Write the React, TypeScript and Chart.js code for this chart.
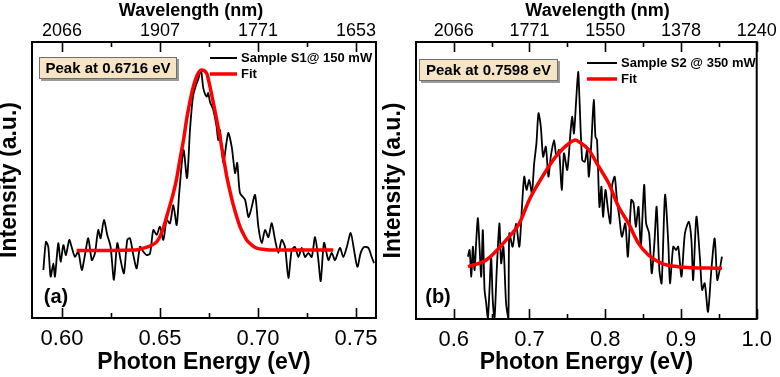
import React, { useEffect, useRef } from 'react';
import { Chart, registerables } from 'chart.js';

Chart.register(...registerables);

const FONT = "'Liberation Sans', Arial, Helvetica, sans-serif";

// ---------- Panel (a) data ----------
const energyA = [
  0.5905, 0.5918, 0.5930, 0.5942, 0.5956, 0.5964, 0.5981, 0.5993, 0.6007, 0.6020,
  0.6037, 0.6049, 0.6066, 0.6083, 0.6101, 0.6117, 0.6134, 0.6152, 0.6168, 0.6185,
  0.6197, 0.6214, 0.6231, 0.6248, 0.6265, 0.6282, 0.6299, 0.6316, 0.6333, 0.6347,
  0.6364, 0.6381, 0.6398, 0.6415, 0.6432, 0.6449, 0.6466, 0.6483, 0.6500, 0.6517,
  0.6534, 0.6551, 0.6568, 0.6585, 0.6598, 0.6620, 0.6638, 0.6653, 0.6668, 0.6684,
  0.6694, 0.6709, 0.6721, 0.6738, 0.6746, 0.6755, 0.6772, 0.6789, 0.6797, 0.6806,
  0.6823, 0.6848, 0.6866, 0.6883, 0.6894, 0.6908, 0.6934, 0.6951, 0.6964, 0.6985,
  0.7002, 0.7019, 0.7036, 0.7053, 0.7070, 0.7087, 0.7104, 0.7121, 0.7138, 0.7155,
  0.7172, 0.7189, 0.7206, 0.7223, 0.7240, 0.7257, 0.7274, 0.7291, 0.7308, 0.7320,
  0.7337, 0.7359, 0.7376, 0.7393, 0.7418, 0.7435, 0.7453, 0.7473, 0.7490, 0.7507,
  0.7524, 0.7541, 0.7563, 0.7580, 0.7592,
];
const intensityA = [
  17.4, 27.6, 25.8, 15.0, 19.8, 15.0, 27.1, 20.4, 26.4, 22.8,
  28.3, 25.8, 22.2, 24.0, 17.4, 22.8, 28.9, 21.0, 23.4, 31.9,
  28.9, 35.5, 30.1, 25.8, 13.8, 27.1, 21.0, 16.2, 28.3, 28.9,
  22.8, 18.0, 25.8, 24.0, 22.8, 23.4, 31.9, 30.1, 33.1, 28.3,
  35.5, 34.3, 40.9, 33.7, 45.2, 60.9, 50.7, 68.1, 80.1, 84.4,
  86.2, 89.9, 83.3, 80.2, 81.5, 78.3, 75.4, 69.2, 64.5, 68.1,
  56.2, 67.0, 62.0, 52.5, 56.2, 45.3, 42.8, 36.6, 39.1, 44.6,
  33.0, 27.2, 31.9, 29.3, 34.4, 28.3, 23.6, 28.3, 25.7, 14.5,
  24.6, 25.7, 22.1, 25.4, 22.1, 23.6, 22.1, 29.3, 21.0, 13.4,
  27.2, 21.0, 23.6, 21.0, 25.4, 22.1, 25.7, 30.8, 24.6, 18.5,
  23.6, 25.7, 25.4, 22.1, 19.9,
];
const fitEnergyA = [
  0.6075, 0.6245, 0.6372, 0.6415, 0.6449, 0.6483, 0.6500, 0.6517, 0.6534, 0.6551,
  0.6568, 0.6585, 0.6602, 0.6620, 0.6636, 0.6653, 0.6670, 0.6695, 0.6712, 0.6738,
  0.6755, 0.6772, 0.6789, 0.6806, 0.6823, 0.6840, 0.6857, 0.6874, 0.6891, 0.6908,
  0.6925, 0.6942, 0.6967, 0.6993, 0.7035, 0.7078, 0.7384,
];
const fitIntensityA = [
  24.5, 24.5, 24.6, 25.3, 26.1, 27.6, 29.5, 32.6, 36.7, 40.9,
  45.2, 50.5, 57.5, 64.5, 72.0, 78.5, 83.8, 88.7, 89.9, 88.7,
  83.8, 78.0, 72.0, 65.5, 58.5, 51.5, 46.0, 41.0, 36.8, 33.1,
  30.5, 28.3, 26.5, 25.3, 24.8, 24.6, 24.6,
];
const majorTicksA = [0.60, 0.65, 0.70, 0.75];
const minorTicksA = [0.625, 0.675, 0.725];
const bottomLabelsA = ['0.60', '0.65', '0.70', '0.75'];
const topLabelsA = ['2066', '1907', '1771', '1653'];

// ---------- Panel (b) data ----------
const energyB = [
  0.6188, 0.6210, 0.6232, 0.6253, 0.6275, 0.6298, 0.6319, 0.6341, 0.6363, 0.6384,
  0.6407, 0.6429, 0.6450, 0.6472, 0.6494, 0.6515, 0.6538, 0.6568, 0.6603, 0.6626,
  0.6656, 0.6691, 0.6721, 0.6734, 0.6778, 0.6822, 0.6866, 0.6901, 0.6931, 0.6961,
  0.6997, 0.7032, 0.7062, 0.7092, 0.7119, 0.7150, 0.7180, 0.7216, 0.7250, 0.7281,
  0.7325, 0.7355, 0.7390, 0.7426, 0.7456, 0.7499, 0.7544, 0.7565, 0.7587, 0.7617,
  0.7643, 0.7659, 0.7696, 0.7731, 0.7761, 0.7784, 0.7819, 0.7849, 0.7871, 0.7892,
  0.7924, 0.7950, 0.7971, 0.8003, 0.8037, 0.8068, 0.8089, 0.8125, 0.8155, 0.8186,
  0.8220, 0.8265, 0.8299, 0.8344, 0.8374, 0.8404, 0.8439, 0.8470, 0.8514, 0.8540,
  0.8580, 0.8614, 0.8649, 0.8679, 0.8715, 0.8745, 0.8790, 0.8833, 0.8855, 0.8898,
  0.8934, 0.8964, 0.9007, 0.9052, 0.9104, 0.9138, 0.9161, 0.9204, 0.9249, 0.9279,
  0.9314, 0.9357, 0.9401, 0.9445, 0.9479, 0.9511, 0.9541,
];
const intensityB = [
  22.5, 24.9, 15.3, 26.1, 17.7, 28.5, 36.4, 26.1, 15.3, 32.1,
  10.5, 5.7, 0.0, 10.5, 22.5, 6.9, 0.0, 17.7, 34.5, 20.1,
  26.1, 5.7, 0.0, 30.9, 26.1, 34.5, 26.1, 40.5, 51.4, 46.6,
  50.2, 45.4, 56.2, 63.4, 74.3, 69.4, 58.6, 62.2, 51.4, 58.6,
  64.6, 58.6, 61.0, 46.6, 59.8, 53.8, 68.2, 73.0, 67.0, 79.1,
  89.2, 80.3, 57.4, 56.8, 61.0, 51.4, 64.6, 79.1, 65.8, 64.6,
  40.5, 47.8, 36.9, 46.6, 39.4, 34.5, 47.8, 51.4, 43.0, 36.9,
  29.7, 34.5, 22.5, 43.0, 41.8, 33.3, 40.5, 26.1, 48.4, 34.5,
  30.9, 16.5, 27.3, 40.5, 17.7, 12.9, 44.8, 27.3, 12.9, 26.1,
  24.9, 26.1, 15.3, 30.9, 35.1, 28.5, 14.1, 36.9, 22.5, 10.5,
  12.9, 2.6, 17.7, 29.1, 14.1, 17.7, 22.5,
];
const fitEnergyB = [
  0.6188, 0.6429, 0.6691, 0.6866, 0.6997, 0.7171, 0.7347, 0.7521, 0.7609, 0.7652,
  0.7784, 0.7915, 0.8046, 0.8177, 0.8308, 0.8439, 0.8570, 0.8745, 0.8964, 0.9541,
];
const fitIntensityB = [
  18.9, 21.3, 28.5, 34.5, 43.0, 51.4, 58.6, 63.4, 64.6, 64.0,
  61.0, 55.0, 49.0, 40.5, 34.5, 27.3, 23.1, 20.1, 18.9, 18.3,
];
const majorTicksB = [0.6, 0.7, 0.8, 0.9, 1.0];
const minorTicksB = [0.65, 0.75, 0.85, 0.95];
const bottomLabelsB = ['0.6', '0.7', '0.8', '0.9', '1.0'];
const topLabelsB = ['2066', '1771', '1550', '1378', '1240'];

type Panel = {
  energy: number[]; intensity: number[]; fitE: number[]; fitI: number[];
  xMin: number; xMax: number; major: number[]; minor: number[];
  bottomLabels: string[]; topLabels: string[];
  sample: string; peak: string; tag: string;
  width: number; yAxisW: number; padRight: number; bottomH: number;
  yTitleLH: number; yTitlePad: number;
  topTitleX: number;
  legX0: number; legX1: number; legY1: number; legY2: number;
  box: { x: number; y: number; w: number; h: number };
  tagX: number;
};

const panelA: Panel = {
  energy: energyA, intensity: intensityA, fitE: fitEnergyA, fitI: fitIntensityA,
  xMin: 0.5847, xMax: 0.7602, major: majorTicksA, minor: minorTicksA,
  bottomLabels: bottomLabelsA, topLabels: topLabelsA,
  sample: 'Sample S1@ 150 mW', peak: 'Peak at 0.6716 eV', tag: '(a)',
  width: 390, yAxisW: 32, padRight: 14, bottomH: 59,
  yTitleLH: 0.8, yTitlePad: 0,
  topTitleX: 191,
  legX0: 210, legX1: 237, legY1: 58, legY2: 74,
  box: { x: 39, y: 57, w: 138, h: 22 },
  tagX: 56,
};

const panelB: Panel = {
  energy: energyB, intensity: intensityB, fitE: fitEnergyB, fitI: fitIntensityB,
  xMin: 0.5502, xMax: 1.0, major: majorTicksB, minor: minorTicksB,
  bottomLabels: bottomLabelsB, topLabels: topLabelsB,
  sample: 'Sample S2 @ 350 mW', peak: 'Peak at 0.7598 eV', tag: '(b)',
  width: 402, yAxisW: 38, padRight: 21, bottomH: 58,
  yTitleLH: 1.0, yTitlePad: 4,
  topTitleX: 219.5,
  legX0: 209, legX1: 239, legY1: 63, legY2: 79,
  box: { x: 41, y: 59, w: 139, h: 22 },
  tagX: 60,
};

function makeDecor(p: Panel) {
  return {
    id: 'decor',
    afterDraw(chart: any) {
      const { ctx, chartArea: a, scales } = chart;
      const xs = scales.x;
      ctx.save();
      // ticks (inward)
      ctx.strokeStyle = '#000';
      ctx.lineWidth = 1.6;
      const drawTick = (v: number, len: number) => {
        const px = Math.round(xs.getPixelForValue(v)) + 0.5;
        ctx.beginPath();
        ctx.moveTo(px, a.bottom);
        ctx.lineTo(px, a.bottom - len);
        ctx.moveTo(px, a.top);
        ctx.lineTo(px, a.top + len);
        ctx.stroke();
      };
      p.major.forEach((v) => drawTick(v, 10));
      p.minor.forEach((v) => drawTick(v, 5));
      // frame
      ctx.lineWidth = 2;
      ctx.strokeRect(a.left, a.top, a.right - a.left, a.bottom - a.top);

      // top title
      ctx.fillStyle = '#000';
      ctx.font = `bold 18px ${FONT}`;
      ctx.textAlign = 'center';
      ctx.textBaseline = 'middle';
      ctx.fillText('Wavelength (nm)', p.topTitleX, 11);

      // legend
      ctx.lineCap = 'butt';
      ctx.strokeStyle = '#000';
      ctx.lineWidth = 2;
      ctx.beginPath();
      ctx.moveTo(p.legX0, p.legY1);
      ctx.lineTo(p.legX1, p.legY1);
      ctx.stroke();
      ctx.strokeStyle = '#ff0000';
      ctx.lineWidth = 3.5;
      ctx.beginPath();
      ctx.moveTo(p.legX0, p.legY2);
      ctx.lineTo(p.legX1, p.legY2);
      ctx.stroke();
      ctx.font = `bold 13px ${FONT}`;
      ctx.textAlign = 'left';
      ctx.fillStyle = '#000';
      ctx.fillText(p.sample, p.legX1 + 4, p.legY1);
      ctx.fillText('Fit', p.legX1 + 4, p.legY2);

      // peak box
      const b = p.box;
      ctx.fillStyle = '#9a9a9a';
      ctx.fillRect(b.x + 2, b.y + 2, b.w, b.h);
      ctx.fillStyle = '#f6e5c4';
      ctx.fillRect(b.x, b.y, b.w, b.h);
      ctx.strokeStyle = '#6e6e6e';
      ctx.lineWidth = 1;
      ctx.strokeRect(b.x + 0.5, b.y + 0.5, b.w - 1, b.h - 1);
      ctx.fillStyle = '#000';
      ctx.font = `bold 15px ${FONT}`;
      ctx.textAlign = 'center';
      ctx.fillText(p.peak, b.x + b.w / 2, b.y + b.h / 2 + 1);

      // panel tag
      ctx.font = `bold 20px ${FONT}`;
      ctx.fillText(p.tag, p.tagX, 297);
      ctx.restore();
    },
  };
}

function makeConfig(p: Panel): any {
  const black = p.energy.map((x, i) => ({ x, y: p.intensity[i] }));
  const fit = p.fitE.map((x, i) => ({ x, y: p.fitI[i] }));
  return {
    type: 'line',
    data: {
      datasets: [
        {
          label: 'Fit', data: fit, borderColor: '#ff0000', borderWidth: 3.5,
          pointRadius: 0, cubicInterpolationMode: 'monotone', fill: false, order: 0,
        },
        {
          label: p.sample, data: black, borderColor: '#000000', borderWidth: 1.8,
          pointRadius: 0, tension: 0.25, fill: false, order: 1,
        },
      ],
    },
    options: {
      responsive: false,
      animation: false,
      devicePixelRatio: 1,
      layout: { padding: { left: 0, right: p.padRight, top: 0, bottom: 0 } },
      plugins: { legend: { display: false }, tooltip: { enabled: false }, title: { display: false } },
      scales: {
        x: {
          type: 'linear', position: 'bottom', min: p.xMin, max: p.xMax,
          grid: { display: false, drawTicks: false },
          border: { display: false },
          afterBuildTicks: (s: any) => { s.ticks = p.major.map((v) => ({ value: v })); },
          afterFit: (s: any) => { s.height = p.bottomH; },
          ticks: {
            autoSkip: false, maxRotation: 0, padding: 8, color: '#000',
            font: { family: FONT, size: 22 },
            callback: (_v: any, i: number) => p.bottomLabels[i],
          },
          title: {
            display: true, text: 'Photon Energy (eV)', color: '#000',
            font: { family: FONT, size: 23, weight: 'bold' },
            padding: { top: 0, bottom: 1 },
          },
        },
        x2: {
          type: 'linear', position: 'top', min: p.xMin, max: p.xMax,
          grid: { display: false, drawTicks: false },
          border: { display: false },
          afterBuildTicks: (s: any) => { s.ticks = p.major.map((v) => ({ value: v })); },
          afterFit: (s: any) => { s.height = 42; },
          ticks: {
            autoSkip: false, maxRotation: 0, padding: 0, color: '#000',
            font: { family: FONT, size: 18 },
            callback: (_v: any, i: number) => p.topLabels[i],
          },
        },
        y: {
          type: 'linear', position: 'left', min: 0, max: 100,
          grid: { display: false, drawTicks: false },
          border: { display: false },
          ticks: { display: false },
          afterFit: (s: any) => { s.width = p.yAxisW; },
          title: {
            display: true, text: 'Intensity (a.u.)', color: '#000',
            font: { family: FONT, size: 23, weight: 'bold', lineHeight: p.yTitleLH },
            padding: { top: p.yTitlePad, bottom: 0 },
          },
        },
      },
    },
    plugins: [makeDecor(p)],
  };
}

export default function App() {
  const refA = useRef<HTMLCanvasElement>(null);
  const refB = useRef<HTMLCanvasElement>(null);
  useEffect(() => {
    document.body.style.margin = '0';
    const ca = new Chart(refA.current as HTMLCanvasElement, makeConfig(panelA));
    const cb = new Chart(refB.current as HTMLCanvasElement, makeConfig(panelB));
    return () => { ca.destroy(); cb.destroy(); };
  }, []);
  return (
    <div style={{ position: 'fixed', left: 0, top: 0, width: 780, height: 377, background: '#fff', overflow: 'hidden' }}>
      <canvas ref={refA} width={390} height={377}
        style={{ position: 'absolute', left: 0, top: 0, width: 390, height: 377 }} />
      <canvas ref={refB} width={402} height={377}
        style={{ position: 'absolute', left: 378, top: 0, width: 402, height: 377 }} />
    </div>
  );
}
